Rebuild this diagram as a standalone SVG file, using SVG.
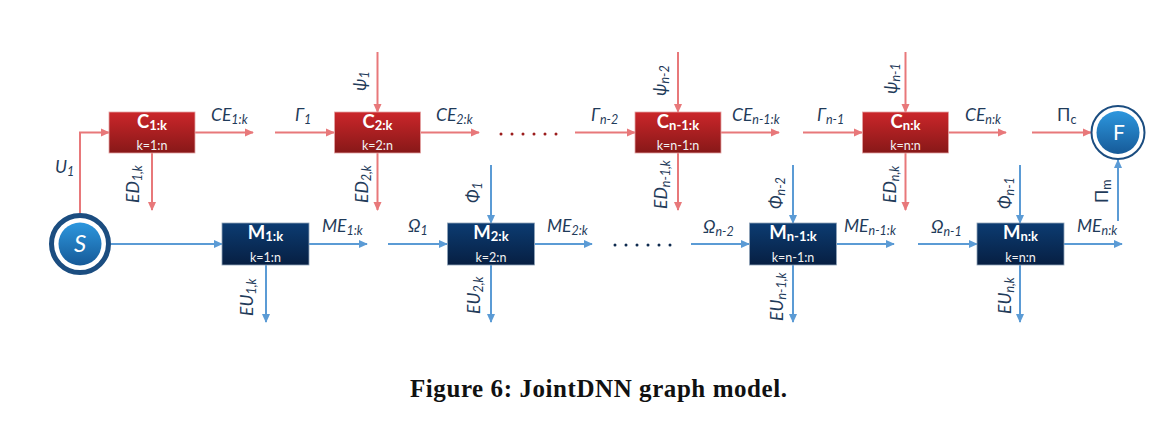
<svg xmlns="http://www.w3.org/2000/svg" width="1170" height="424" viewBox="0 0 1170 424">
<defs>
  <linearGradient id="gC" x1="0" y1="0" x2="0" y2="1">
    <stop offset="0" stop-color="#CB262A"/>
    <stop offset="1" stop-color="#871818"/>
  </linearGradient>
  <linearGradient id="gM" x1="0" y1="0" x2="0" y2="1">
    <stop offset="0" stop-color="#0C3C72"/>
    <stop offset="1" stop-color="#071F42"/>
  </linearGradient>
  <linearGradient id="gB" x1="0" y1="0" x2="0" y2="1">
    <stop offset="0" stop-color="#2D97DE"/>
    <stop offset="1" stop-color="#165A98"/>
  </linearGradient>
  <marker id="ar" viewBox="0 0 10 10" refX="9" refY="5" markerWidth="9" markerHeight="9" markerUnits="userSpaceOnUse" orient="auto">
    <path d="M0,0.5 L10,5 L0,9.5 z" fill="#E8787A"/>
  </marker>
  <marker id="ab" viewBox="0 0 10 10" refX="9" refY="5" markerWidth="9" markerHeight="9" markerUnits="userSpaceOnUse" orient="auto">
    <path d="M0,0.5 L10,5 L0,9.5 z" fill="#5B9BD5"/>
  </marker>
</defs>
<style>
  .r { stroke:#E8787A; stroke-width:2; fill:none; marker-end:url(#ar); }
  .b { stroke:#5B9BD5; stroke-width:2; fill:none; marker-end:url(#ab); }
  .cbox { fill:url(#gC); stroke:#E4A4A4; stroke-width:0.8; }
  .mbox { fill:url(#gM); stroke:#8FA3B8; stroke-width:0.8; }
  .tt { font-family:Lato, "Open Sans", sans-serif; font-weight:bold; font-size:18.5px; fill:#FFFFFF; text-anchor:middle; }
  .ts { font-size:13px; }
  .kk { font-family:Lato, "Open Sans", sans-serif; font-size:12.5px; fill:#F2F2F2; text-anchor:middle; }
  .lb { font-family:Lato, "Open Sans", sans-serif; font-style:italic; font-size:17.5px; fill:#1F3B5A; }
  .up { font-style:normal; }
  .sb { font-size:12.5px; }
  .cap { font-family:"Liberation Serif", serif; font-weight:bold; font-size:25px; fill:#111111; }
</style>

<g id="connectors">
  <path class="r" d="M80,213 V132.5 H109"/>
  <path class="r" d="M195,132.5 H253"/>
  <path class="r" d="M152,153 V210"/>
  <path class="r" d="M275,132.5 H334"/>
  <path class="r" d="M377.5,52 V112"/>
  <path class="r" d="M421,132.5 H479"/>
  <path class="r" d="M377.5,153 V210"/>
  <path class="r" d="M575,132.5 H635"/>
  <path class="r" d="M678,52 V112"/>
  <path class="r" d="M721,132.5 H779"/>
  <path class="r" d="M678,153 V210"/>
  <path class="r" d="M803,132.5 H862"/>
  <path class="r" d="M905.5,52 V112"/>
  <path class="r" d="M948,132.5 H1006"/>
  <path class="r" d="M905.5,153 V210"/>
  <path class="r" d="M1032,132.5 H1091"/>

  <path class="b" d="M111,244 H222"/>
  <path class="b" d="M309,244 H367"/>
  <path class="b" d="M266,265 V322"/>
  <path class="b" d="M388,244 H447"/>
  <path class="b" d="M491,165 V223"/>
  <path class="b" d="M535,244 H592"/>
  <path class="b" d="M491,265 V322"/>
  <path class="b" d="M691,244 H749"/>
  <path class="b" d="M793,165 V223"/>
  <path class="b" d="M837,244 H894"/>
  <path class="b" d="M793,265 V322"/>
  <path class="b" d="M918,244 H977"/>
  <path class="b" d="M1020,165 V223"/>
  <path class="b" d="M1064,244 H1122"/>
  <path class="b" d="M1020,265 V322"/>
  <path class="b" d="M1118,221 V160"/>

  <g fill="#9B1C1C">
    <circle cx="501" cy="134" r="1.5"/><circle cx="512" cy="134" r="1.5"/><circle cx="523" cy="134" r="1.5"/>
    <circle cx="534" cy="134" r="1.5"/><circle cx="545" cy="134" r="1.5"/><circle cx="556" cy="134" r="1.5"/>
  </g>
  <g fill="#0E2A4E">
    <circle cx="615" cy="245" r="1.5"/><circle cx="626" cy="245" r="1.5"/><circle cx="637" cy="245" r="1.5"/>
    <circle cx="648" cy="245" r="1.5"/><circle cx="659" cy="245" r="1.5"/><circle cx="670" cy="245" r="1.5"/>
  </g>
</g>

<g id="labels">
  <text class="lb" x="55" y="173">U<tspan class="sb" dy="3">1</tspan></text>
  <text class="lb" x="211" y="121">CE<tspan class="sb" dy="3">1:k</tspan></text>
  <text class="lb" x="295" y="121">Γ<tspan class="sb" dy="3">1</tspan></text>
  <text class="lb" x="436" y="121">CE<tspan class="sb" dy="3">2:k</tspan></text>
  <text class="lb" x="591" y="121">Γ<tspan class="sb" dy="3">n-2</tspan></text>
  <text class="lb" x="732" y="121">CE<tspan class="sb" dy="3">n-1:k</tspan></text>
  <text class="lb" x="817" y="121">Γ<tspan class="sb" dy="3">n-1</tspan></text>
  <text class="lb" x="965" y="121">CE<tspan class="sb" dy="3">n:k</tspan></text>
  <text class="lb up" x="1057" y="121">Π<tspan class="sb" dy="3">c</tspan></text>

  <text class="lb" x="322" y="232">ME<tspan class="sb" dy="3">1:k</tspan></text>
  <text class="lb" x="408" y="232">Ω<tspan class="sb" dy="3">1</tspan></text>
  <text class="lb" x="547" y="232">ME<tspan class="sb" dy="3">2:k</tspan></text>
  <text class="lb" x="703" y="233">Ω<tspan class="sb" dy="3">n-2</tspan></text>
  <text class="lb" x="844" y="232">ME<tspan class="sb" dy="3">n-1:k</tspan></text>
  <text class="lb" x="931" y="233">Ω<tspan class="sb" dy="3">n-1</tspan></text>
  <text class="lb" x="1077" y="232">ME<tspan class="sb" dy="3">n:k</tspan></text>

  <text class="lb" transform="translate(139,203) rotate(-90)">ED<tspan class="sb" dy="3">1,k</tspan></text>
  <text class="lb" transform="translate(366,91) rotate(-90)">ψ<tspan class="sb" dy="3">1</tspan></text>
  <text class="lb" transform="translate(368,203) rotate(-90)">ED<tspan class="sb" dy="3">2,k</tspan></text>
  <text class="lb" transform="translate(479,203) rotate(-90)">Φ<tspan class="sb" dy="3">1</tspan></text>
  <text class="lb" transform="translate(253,316) rotate(-90)">EU<tspan class="sb" dy="3">1,k</tspan></text>
  <text class="lb" transform="translate(480,314) rotate(-90)">EU<tspan class="sb" dy="3">2,k</tspan></text>
  <text class="lb" transform="translate(666,96) rotate(-90)">ψ<tspan class="sb" dy="3">n-2</tspan></text>
  <text class="lb" transform="translate(667,209) rotate(-90)">ED<tspan class="sb" dy="3">n-1,k</tspan></text>
  <text class="lb" transform="translate(782,209) rotate(-90)">Φ<tspan class="sb" dy="3">n-2</tspan></text>
  <text class="lb" transform="translate(783,321) rotate(-90)">EU<tspan class="sb" dy="3">n-1,k</tspan></text>
  <text class="lb" transform="translate(897,94) rotate(-90)">ψ<tspan class="sb" dy="3">n-1</tspan></text>
  <text class="lb" transform="translate(896,203) rotate(-90)">ED<tspan class="sb" dy="3">n,k</tspan></text>
  <text class="lb" transform="translate(1011,209) rotate(-90)">Φ<tspan class="sb" dy="3">n-1</tspan></text>
  <text class="lb" transform="translate(1011,314) rotate(-90)">EU<tspan class="sb" dy="3">n,k</tspan></text>
  <text class="lb up" transform="translate(1108,203) rotate(-90)">Π<tspan class="sb" dy="3">m</tspan></text>
</g>

<g id="S">
  <circle cx="80" cy="244" r="28.5" fill="none" stroke="#1B4D80" stroke-width="5"/>
  <circle cx="80" cy="244" r="21.5" fill="url(#gB)"/>
  <text x="80" y="252" font-family="Lato, 'Open Sans', sans-serif" font-style="italic" font-size="24" fill="#FFFFFF" text-anchor="middle">S</text>
</g>
<g id="F">
  <circle cx="1118" cy="132.5" r="26.5" fill="none" stroke="#1B4D80" stroke-width="2"/>
  <circle cx="1118" cy="132.5" r="21.5" fill="url(#gB)"/>
  <text x="1119" y="140" font-family="Lato, 'Open Sans', sans-serif" font-size="21" fill="#FFFFFF" text-anchor="middle">F</text>
</g>

<g id="C1">
  <rect class="cbox" x="109" y="112" width="86" height="41"/>
  <text class="tt" x="152" y="128">C<tspan class="ts" dy="2">1:k</tspan></text>
  <text class="kk" x="152" y="150">k=1:n</text>
</g>
<g id="C2">
  <rect class="cbox" x="334.5" y="112" width="86" height="41"/>
  <text class="tt" x="377.5" y="128">C<tspan class="ts" dy="2">2:k</tspan></text>
  <text class="kk" x="377.5" y="150">k=2:n</text>
</g>
<g id="Cn-1">
  <rect class="cbox" x="635" y="112" width="86" height="41"/>
  <text class="tt" x="678" y="128">C<tspan class="ts" dy="2">n-1:k</tspan></text>
  <text class="kk" x="678" y="150">k=n-1:n</text>
</g>
<g id="Cn">
  <rect class="cbox" x="862.5" y="112" width="86" height="41"/>
  <text class="tt" x="905.5" y="128">C<tspan class="ts" dy="2">n:k</tspan></text>
  <text class="kk" x="905.5" y="150">k=n:n</text>
</g>

<g id="M1">
  <rect class="mbox" x="222" y="223" width="87" height="42"/>
  <text class="tt" x="265.5" y="239">M<tspan class="ts" dy="2">1:k</tspan></text>
  <text class="kk" x="265.5" y="262">k=1:n</text>
</g>
<g id="M2">
  <rect class="mbox" x="447.5" y="223" width="87" height="42"/>
  <text class="tt" x="491" y="239">M<tspan class="ts" dy="2">2:k</tspan></text>
  <text class="kk" x="491" y="262">k=2:n</text>
</g>
<g id="Mn-1">
  <rect class="mbox" x="749.5" y="223" width="87" height="42"/>
  <text class="tt" x="793" y="239">M<tspan class="ts" dy="2">n-1:k</tspan></text>
  <text class="kk" x="793" y="262">k=n-1:n</text>
</g>
<g id="Mn">
  <rect class="mbox" x="977" y="223" width="87" height="42"/>
  <text class="tt" x="1020.5" y="239">M<tspan class="ts" dy="2">n:k</tspan></text>
  <text class="kk" x="1020.5" y="262">k=n:n</text>
</g>

<text class="cap" x="410" y="397" textLength="377" lengthAdjust="spacing">Figure 6: JointDNN graph model.</text>
</svg>
